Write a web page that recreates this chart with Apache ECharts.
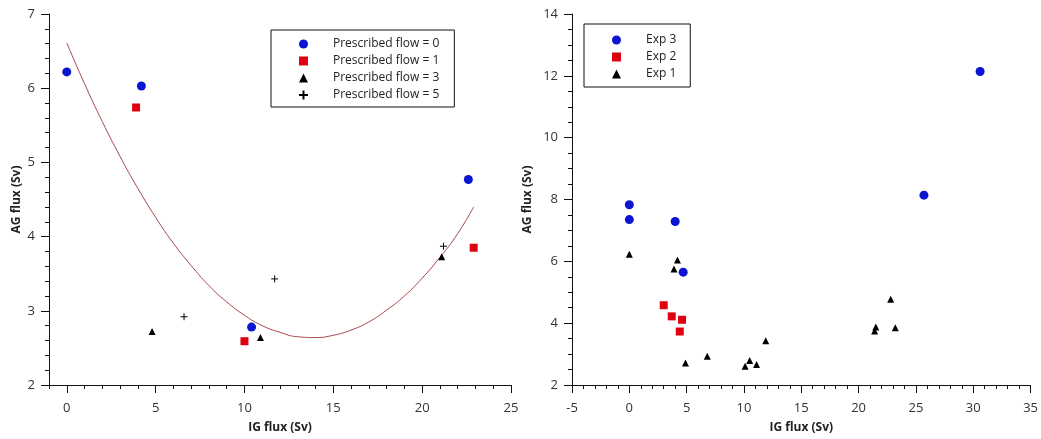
<!DOCTYPE html>
<html>
<head>
<meta charset="utf-8">
<script src="https://cdn.jsdelivr.net/npm/echarts@6/dist/echarts.min.js"></script>
<style>
  html, body { margin: 0; padding: 0; background: #fff; }
  #chart { width: 1041px; height: 439px; }
</style>
</head>
<body>
<div id="chart"></div>
<script>
// left panel: prescribed flow runs
var flow0X = [0, 4.2, 10.4, 22.6];
var flow0Y = [6.22, 6.03, 2.78, 4.77];
var flow1X = [3.9, 10.0, 22.9];
var flow1Y = [5.74, 2.59, 3.85];
var flow3X = [4.8, 10.9, 21.1];
var flow3Y = [2.72, 2.64, 3.73];
var flow5X = [6.6, 11.7, 21.2];
var flow5Y = [2.92, 3.43, 3.87];
// fitted curve
var fitX = [0, 1, 2, 3, 4, 5, 6, 7, 8, 9, 10, 11, 12, 13, 14, 15, 16, 17, 18, 19, 20, 21, 22, 22.9];
var fitY = [6.61, 6.06, 5.55, 5.08, 4.65, 4.26, 3.91, 3.61, 3.34, 3.12, 2.94, 2.80, 2.71, 2.65,
            2.64, 2.67, 2.74, 2.85, 3.01, 3.20, 3.44, 3.72, 4.04, 4.40];

// right panel: experiments
var exp3X = [0, 0, 4.0, 4.7, 25.7, 30.6];
var exp3Y = [7.83, 7.35, 7.29, 5.65, 8.14, 12.14];
var exp2X = [3.0, 3.7, 4.6, 4.4];
var exp2Y = [4.58, 4.22, 4.11, 3.73];
var exp1X = [0, 4.2, 3.9, 4.9, 6.8, 10.1, 10.5, 11.1, 11.9, 21.4, 21.5, 22.8, 23.2];
var exp1Y = [6.23, 6.04, 5.75, 2.71, 2.93, 2.61, 2.79, 2.66, 3.43, 3.75, 3.88, 4.77, 3.85];

var leftMajorX = [0, 5, 10, 15, 20, 25];
var leftNames = ['Prescribed flow = 0', 'Prescribed flow = 1', 'Prescribed flow = 3', 'Prescribed flow = 5'];
var rightNames = ['Exp 3', 'Exp 2', 'Exp 1'];

function pairs(xs, ys) {
  return xs.map(function (x, i) { return [x, ys[i]]; });
}

var BLUE = '#0a14d2';
var RED = '#e0000f';
var FONT = 'Open Sans';
var PLUS = 'path://M0,3.5H7M3.5,0V7';

var axisLine = { show: true, onZero: false, lineStyle: { color: '#111', width: 1 } };
var tickLabel = { color: '#333', fontSize: 13, fontFamily: FONT };
var nameStyle = { color: '#222', fontSize: 12, fontWeight: 'bold', fontFamily: FONT };
var legendText = { color: '#222', fontSize: 12, fontFamily: FONT, padding: [0, 0, 0, 20] };

var chart = echarts.init(document.getElementById('chart'));
chart.setOption({
  animation: false,
  backgroundColor: '#fff',
  grid: [
    { left: 49, top: 14, width: 462, height: 373 },
    { left: 572, top: 14, width: 459, height: 373 }
  ],
  legend: [
    {
      data: leftNames,
      orient: 'vertical', left: 271, top: 30,
      itemWidth: 9, itemHeight: 9, itemGap: 5,
      padding: [8, 15, 6, 27],
      borderColor: '#111', borderWidth: 1,
      textStyle: legendText
    },
    {
      data: rightNames,
      orient: 'vertical', left: 584, top: 24,
      itemWidth: 9, itemHeight: 9, itemGap: 5,
      padding: [10, 14, 7, 28],
      borderColor: '#111', borderWidth: 1,
      textStyle: legendText
    }
  ],
  xAxis: [
    {
      // minor ticks, every 1
      type: 'value', gridIndex: 0, position: 'bottom', min: -1, max: 25, interval: 1,
      axisLine: axisLine,
      axisTick: { show: true, length: 4, lineStyle: { color: '#111' } },
      axisLabel: { show: false },
      splitLine: { show: false },
      name: 'IG flux (Sv)', nameLocation: 'middle', nameGap: 37, nameTextStyle: nameStyle
    },
    {
      // major ticks and labels
      type: 'value', gridIndex: 0, position: 'bottom', offset: 0, min: -1, max: 25,
      axisLine: axisLine,
      axisTick: { show: true, length: 8, customValues: leftMajorX, lineStyle: { color: '#111' } },
      axisLabel: Object.assign({ margin: 17, customValues: leftMajorX }, tickLabel),
      splitLine: { show: false }
    },
    {
      type: 'value', gridIndex: 1, min: -5, max: 35, interval: 5,
      axisLine: axisLine,
      axisTick: { show: true, length: 8, lineStyle: { color: '#111' } },
      minorTick: { show: true, splitNumber: 5, length: 4, lineStyle: { color: '#111' } },
      axisLabel: Object.assign({ margin: 17 }, tickLabel),
      splitLine: { show: false },
      name: 'IG flux (Sv)', nameLocation: 'middle', nameGap: 37, nameTextStyle: nameStyle
    }
  ],
  yAxis: [
    {
      type: 'value', gridIndex: 0, min: 2, max: 7, interval: 1,
      axisLine: axisLine,
      axisTick: { show: true, length: 8, lineStyle: { color: '#111' } },
      minorTick: { show: true, splitNumber: 5, length: 4, lineStyle: { color: '#111' } },
      axisLabel: Object.assign({ margin: 14 }, tickLabel),
      splitLine: { show: false },
      name: 'AG flux (Sv)', nameLocation: 'middle', nameGap: 26, nameTextStyle: nameStyle
    },
    {
      type: 'value', gridIndex: 1, min: 2, max: 14, interval: 2,
      axisLine: axisLine,
      axisTick: { show: true, length: 8, lineStyle: { color: '#111' } },
      minorTick: { show: true, splitNumber: 4, length: 4, lineStyle: { color: '#111' } },
      axisLabel: Object.assign({ margin: 14 }, tickLabel),
      splitLine: { show: false },
      name: 'AG flux (Sv)', nameLocation: 'middle', nameGap: 38, nameTextStyle: nameStyle
    }
  ],
  series: [
    {
      name: 'fit', type: 'line', xAxisIndex: 1, yAxisIndex: 0,
      data: pairs(fitX, fitY), smooth: true, showSymbol: false,
      lineStyle: { color: '#a84848', width: 1 }, z: 1
    },
    {
      name: leftNames[0], type: 'scatter', xAxisIndex: 1, yAxisIndex: 0,
      data: pairs(flow0X, flow0Y), symbol: 'circle', symbolSize: 9,
      itemStyle: { color: BLUE, opacity: 1 }
    },
    {
      name: leftNames[1], type: 'scatter', xAxisIndex: 1, yAxisIndex: 0,
      data: pairs(flow1X, flow1Y), symbol: 'rect', symbolSize: 8,
      itemStyle: { color: RED, opacity: 1 }
    },
    {
      name: leftNames[2], type: 'scatter', xAxisIndex: 1, yAxisIndex: 0,
      data: pairs(flow3X, flow3Y), symbol: 'triangle', symbolSize: 7,
      itemStyle: { color: '#000', opacity: 1 }
    },
    {
      name: leftNames[3], type: 'scatter', xAxisIndex: 1, yAxisIndex: 0,
      data: pairs(flow5X, flow5Y), symbol: PLUS, symbolSize: 7,
      itemStyle: { color: 'rgba(0,0,0,0)', borderColor: '#000', borderWidth: 1, opacity: 1 }
    },
    {
      name: rightNames[0], type: 'scatter', xAxisIndex: 2, yAxisIndex: 1,
      data: pairs(exp3X, exp3Y), symbol: 'circle', symbolSize: 9,
      itemStyle: { color: BLUE, opacity: 1 }
    },
    {
      name: rightNames[1], type: 'scatter', xAxisIndex: 2, yAxisIndex: 1,
      data: pairs(exp2X, exp2Y), symbol: 'rect', symbolSize: 8,
      itemStyle: { color: RED, opacity: 1 }
    },
    {
      name: rightNames[2], type: 'scatter', xAxisIndex: 2, yAxisIndex: 1,
      data: pairs(exp1X, exp1Y), symbol: 'triangle', symbolSize: 7,
      itemStyle: { color: '#000', opacity: 1 }
    }
  ]
});
</script>
</body>
</html>
